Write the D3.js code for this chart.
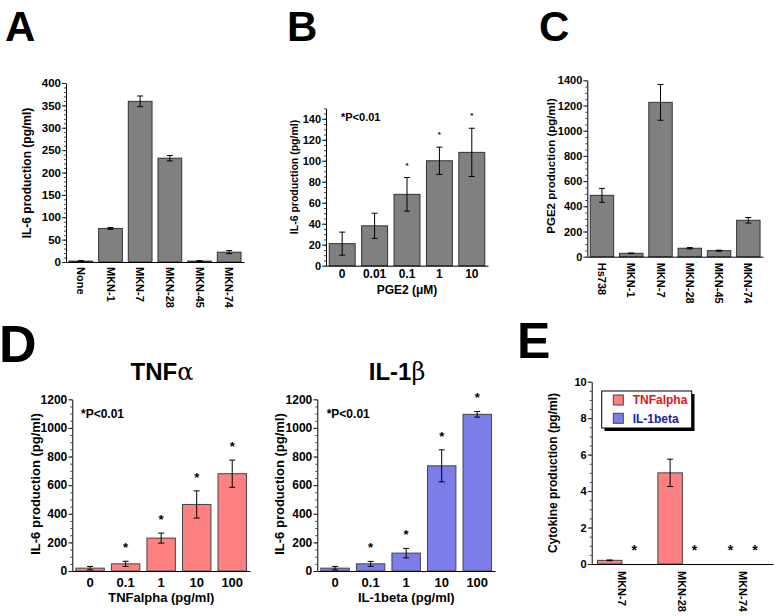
<!DOCTYPE html>
<html><head><meta charset="utf-8">
<script src="https://cdn.jsdelivr.net/npm/d3@7"></script>
<style>
body{margin:0;background:#fff}
svg{display:block}
text{font-family:"Liberation Sans",Arial,Helvetica,sans-serif;fill:#000}
</style>
</head><body>
<svg id="c" width="777" height="616"></svg>
<script>
// ---------------- DATA ----------------
// Panel A: IL-6 production by cell line
const aCategories = ["None", "MKN-1", "MKN-7", "MKN-28", "MKN-45", "MKN-74"];
const aValues = [2, 75, 359, 232, 2, 22];
const aErrors = [1, 2, 12, 6, 1, 3.5];
const aTicks = [0, 50, 100, 150, 200, 250, 300, 350, 400];

// Panel B: IL-6 production vs PGE2 dose
const bCategories = ["0", "0.01", "0.1", "1", "10"];
const bValues = [21, 38, 68, 100, 108];
const bErrors = [11, 12, 16, 13, 23];
const bStars = [false, false, true, true, true];
const bTicks = [0, 20, 40, 60, 80, 100, 120, 140];

// Panel C: PGE2 production by cell line
const cCategories = ["Hs738", "MKN-1", "MKN-7", "MKN-28", "MKN-45", "MKN-74"];
const cValues = [487, 27, 1225, 67, 48, 289];
const cErrors = [55, 2, 142, 5, 4, 22];
const cTicks = [0, 200, 400, 600, 800, 1000, 1200, 1400];

// Panel D: IL-6 production vs TNFalpha / IL-1beta dose
const dCategories = ["0", "0.1", "1", "10", "100"];
const dTnfValues = [20, 50, 230, 465, 680];
const dTnfErrors = [12, 18, 35, 95, 95];
const dIl1Values = [20, 50, 125, 735, 1095];
const dIl1Errors = [12, 17, 33, 112, 20];
const dStars = [false, true, true, true, true];
const dTicks = [0, 200, 400, 600, 800, 1000, 1200];

// Panel E: cytokine production by cell line
const eCategories = ["MKN-7", "MKN-28", "MKN-74"];
const eSeries = ["TNFalpha", "IL-1beta"];
const eTnfValues = [0.2, 5.0, 0];
const eTnfErrors = [0.02, 0.75, 0];
const eIl1Values = [0, 0, 0];
const eIl1Errors = [0, 0, 0];
const eTnfStars = [false, false, true];
const eIl1Stars = [true, true, true];
const eTicks = [0, 2, 4, 6, 8, 10];

// ---------------- STYLE ----------------
const GRAY = "#808080", SALMON = "#ff8080", BLUE = "#7d7dea";
const svg = d3.select("#c");

function yAxis(g, y, x0, major, minorStep, font) {
  const top = y.domain()[1];
  g.append("g").attr("transform", `translate(${x0},0)`)
    .call(d3.axisLeft(y).tickValues(d3.range(0, top + 1e-9, minorStep)).tickSize(2).tickSizeOuter(0).tickFormat(""))
    .call(s => s.select(".domain").remove())
    .selectAll("line").attr("stroke", "#444");
  const ax = g.append("g").attr("transform", `translate(${x0},0)`)
    .call(d3.axisLeft(y).tickValues(major).tickSize(4).tickSizeOuter(0).tickPadding(1).tickFormat(d3.format("d")));
  ax.select(".domain").attr("stroke", "#000");
  ax.selectAll("line").attr("stroke", "#222");
  ax.selectAll("text").attr("font-size", font).attr("font-weight", "bold").attr("fill", "#000")
    .attr("font-family", '"Liberation Sans",Arial,sans-serif');
}

function xAxis(g, x, y, o) {
  const ax = g.append("g").attr("transform", `translate(0,${y(0)})`)
    .call(d3.axisBottom(x).tickSize(0).tickSizeOuter(0));
  ax.select(".domain").attr("stroke", "#000");
  const t = ax.selectAll("text").attr("font-size", o.font).attr("font-weight", "bold").attr("fill", "#000")
    .attr("font-family", '"Liberation Sans",Arial,sans-serif');
  if (o.rotate) {
    t.attr("y", null).attr("dy", "0.35em").attr("text-anchor", "start")
      .attr("transform", `translate(0,${o.offset}) rotate(90)`);
  } else {
    t.attr("y", o.offset).attr("dy", 0);
  }
}

function yTitle(g, text, bx, cy, font) {
  g.append("text").attr("transform", `translate(${bx},${cy}) rotate(-90)`)
    .attr("text-anchor", "middle").attr("font-size", font).attr("font-weight", "bold").text(text);
}

function bars(g, x, y, cats, vals, errs, fill, stroke, xOff, bw) {
  const data = cats.map((c, i) => ({c, v: vals[i], e: errs[i]}));
  const w = bw !== undefined ? bw : x.bandwidth();
  const px = d => x(d.c) + (xOff || 0);
  g.selectAll(null).data(data.filter(d => d.v > 0)).join("rect")
    .attr("x", d => px(d)).attr("width", w)
    .attr("y", d => y(d.v)).attr("height", d => y(0) - y(d.v))
    .attr("fill", fill).attr("stroke", stroke).attr("stroke-width", 1);
  const eb = data.filter(d => d.e > 0);
  const cap = 3;
  g.selectAll(null).data(eb).join("line")
    .attr("x1", d => px(d) + w / 2).attr("x2", d => px(d) + w / 2)
    .attr("y1", d => y(d.v - d.e)).attr("y2", d => y(d.v + d.e)).attr("stroke", "#000");
  [1, -1].forEach(s => {
    g.selectAll(null).data(eb).join("line")
      .attr("x1", d => px(d) + w / 2 - cap).attr("x2", d => px(d) + w / 2 + cap)
      .attr("y1", d => y(d.v + s * d.e)).attr("y2", d => y(d.v + s * d.e)).attr("stroke", "#000");
  });
  return data.map(d => ({cx: px(d) + w / 2, top: y(d.v + d.e)}));
}

function stars(g, pos, flags, font, off, weight) {
  g.selectAll(null).data(pos.filter((p, i) => flags[i])).join("text")
    .attr("x", p => p.cx).attr("y", p => p.top - off).attr("text-anchor", "middle")
    .attr("font-size", font).attr("font-weight", weight).text("*");
}

function letter(t, x, y, size) {
  svg.append("text").attr("x", x).attr("y", y).attr("font-size", size).attr("font-weight", "bold").text(t);
}

// ---------------- PANEL A ----------------
{
  const g = svg.append("g");
  const x = d3.scaleBand().domain(aCategories).range([66, 244]).paddingInner(0.2).paddingOuter(0.1);
  const y = d3.scaleLinear().domain([0, 400]).range([262, 83]);
  bars(g, x, y, aCategories, aValues, aErrors, GRAY, "#333");
  yAxis(g, y, 66, aTicks, 10, 11.5);
  xAxis(g, x, y, {font: 11, rotate: true, offset: 5});
  yTitle(g, "IL-6 production (pg/ml)", 31, 173, 12);
  letter("A", 5, 41, 42);
}

// ---------------- PANEL B ----------------
{
  const g = svg.append("g");
  const x = d3.scaleBand().domain(bCategories).range([326, 488]).paddingInner(0.2).paddingOuter(0.1);
  const y = d3.scaleLinear().domain([0, 150]).range([265.7, 108.3]);
  const pos = bars(g, x, y, bCategories, bValues, bErrors, GRAY, "#333");
  stars(g, pos, bStars, 8, 10, "bold");
  yAxis(g, y, 326, bTicks, 5, 11);
  xAxis(g, x, y, {font: 12, rotate: false, offset: 12.8});
  g.append("text").attr("x", 407).attr("y", 294).attr("text-anchor", "middle")
    .attr("font-size", 12).attr("font-weight", "bold").text("PGE2 (\u03BCM)");
  g.append("text").attr("x", 341).attr("y", 120.7).attr("font-size", 11).attr("font-weight", "bold").text("*P<0.01");
  yTitle(g, "IL-6 production (pg/ml)", 298, 177, 10.5);
  letter("B", 287, 41, 42);
}

// ---------------- PANEL C ----------------
{
  const g = svg.append("g");
  const x = d3.scaleBand().domain(cCategories).range([587.3, 763]).paddingInner(0.2).paddingOuter(0.1);
  const y = d3.scaleLinear().domain([0, 1400]).range([256.7, 80.3]);
  bars(g, x, y, cCategories, cValues, cErrors, GRAY, "#333");
  yAxis(g, y, 587.3, cTicks, 50, 11);
  xAxis(g, x, y, {font: 11, rotate: true, offset: 6});
  yTitle(g, "PGE2 production (pg/ml)", 555, 166, 11.5);
  letter("C", 539, 41, 42);
}

// ---------------- PANEL D ----------------
function panelD(x0, vals, errs, fill, xTitleText, titleMain, titleGreek, titleCx, pX, ytBx) {
  const g = svg.append("g");
  const x = d3.scaleBand().domain(dCategories).range([x0, x0 + 177.7]).paddingInner(0.2).paddingOuter(0.1);
  const y = d3.scaleLinear().domain([0, 1200]).range([571, 399.3]);
  const pos = bars(g, x, y, dCategories, vals, errs, fill, "#444");
  stars(g, pos, dStars, 13, 9, "bold");
  yAxis(g, y, x0, dTicks, 50, 12);
  xAxis(g, x, y, {font: 13, rotate: false, offset: 16});
  g.append("text").attr("x", x0 + 89).attr("y", 602).attr("text-anchor", "middle")
    .attr("font-size", 13).attr("font-weight", "bold").text(xTitleText);
  const t = g.append("text").attr("x", titleCx).attr("y", 380).attr("text-anchor", "middle").attr("font-size", 24).attr("font-weight", "bold");
  t.append("tspan").text(titleMain);
  t.append("tspan").attr("font-weight", "normal").attr("font-family", '"DejaVu Serif","Liberation Serif",serif').text(titleGreek);
  g.append("text").attr("x", pX).attr("y", 417.5).attr("font-size", 12).attr("font-weight", "bold").text("*P<0.01");
  yTitle(g, "IL-6 production (pg/ml)", ytBx, 484, 13);
}
panelD(72.3, dTnfValues, dTnfErrors, SALMON, "TNFalpha (pg/ml)", "TNF", "\u03B1", 162, 81, 40);
panelD(317.3, dIl1Values, dIl1Errors, BLUE, "IL-1beta (pg/ml)", "IL-1", "\u03B2", 397, 326.7, 284);
letter("D", -1, 362, 52);

// ---------------- PANEL E ----------------
{
  const g = svg.append("g");
  const x0 = d3.scaleBand().domain(eCategories).range([591.7, 773]).paddingInner(0.19).paddingOuter(0.095);
  const x1 = d3.scaleBand().domain(eSeries).range([0, x0.bandwidth()]);
  const y = d3.scaleLinear().domain([0, 10]).range([564, 381.7]);
  const pT = bars(g, x0, y, eCategories, eTnfValues, eTnfErrors, SALMON, "#444", x1("TNFalpha"), x1.bandwidth());
  const pI = bars(g, x0, y, eCategories, eIl1Values, eIl1Errors, BLUE, "#444", x1("IL-1beta"), x1.bandwidth());
  stars(g, pT, eTnfStars, 14, 9, "bold");
  stars(g, pI, eIl1Stars, 14, 9, "bold");
  yAxis(g, y, 591.7, eTicks, 0.5, 11);
  xAxis(g, x0, y, {font: 11, rotate: true, offset: 7});
  yTitle(g, "Cytokine production (pg/ml)", 557, 473, 12);
  // legend
  const lg = g.append("g");
  lg.append("rect").attr("x", 604.5).attr("y", 394).attr("width", 90).attr("height", 37).attr("fill", "#000");
  lg.append("rect").attr("x", 601.7).attr("y", 391).attr("width", 90).attr("height", 37).attr("fill", "#fff").attr("stroke", "#000");
  const legColors = [SALMON, BLUE], legText = ["#e0141c", "#1c1ca8"], legY = [395, 413.3];
  eSeries.forEach((s, i) => {
    lg.append("rect").attr("x", 613.3).attr("y", legY[i]).attr("width", 10).attr("height", 10)
      .attr("fill", legColors[i]).attr("stroke", "#444");
    lg.append("text").attr("x", 632.7).attr("y", legY[i] + 9.3).attr("font-size", 12).attr("font-weight", "bold")
      .style("fill", legText[i]).text(s);
  });
  letter("E", 517, 358, 50);
}
</script>
</body></html>
